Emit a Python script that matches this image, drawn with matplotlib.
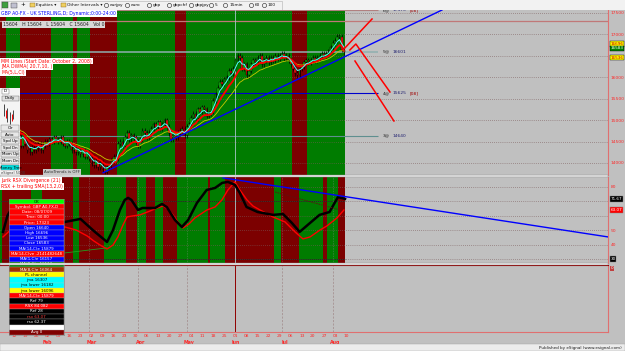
import numpy as np
import pandas as pd
import matplotlib
matplotlib.use("Agg")
from matplotlib import pyplot as plt
from matplotlib.patches import Rectangle
import matplotlib.transforms as mtransforms

plt.rcParams["font.family"] = ["DejaVu Sans"]

# daily closes, GBP A0-FX, 5 Jan .. 7 Aug 2009 (one row per week)
closes = [
    15050, 15150, 14950, 15050, 14900,
    14700, 14550, 14600, 14400, 14650,
    14450, 14300, 14250, 14350, 14300,
    14350, 14450, 14300, 14400, 14500,
    14450, 14550, 14500, 14600, 14550,
    14500, 14600, 14450, 14400, 14500,
    14450, 14300, 14350, 14250, 14300,
    14200, 14300, 14150, 14250, 14100,
    14000, 13950, 14050, 13900, 14000,
    13850, 13800, 13900, 13950, 14050,
    14150, 14100, 14450, 14500, 14400,
    14600, 14700, 14550, 14650, 14600,
    14500, 14400, 14550, 14750, 14700,
    14600, 14700, 14800, 14900, 14850,
    14950, 14800, 14900, 15000, 14850,
    14700, 14550, 14650, 14600, 14700,
    14750, 14800, 14650, 14850, 14900,
    15050, 15150, 15050, 15250, 15200,
    15300, 15250, 15100, 15150, 15200,
    15450, 15600, 15750, 15900, 15850,
    15950, 16000, 16150, 16100, 16200,
    16400, 16500, 16450, 16200, 16300,
    16050, 16150, 16300, 16400, 16350,
    16450, 16500, 16300, 16400, 16450,
    16350, 16450, 16400, 16500, 16450,
    16500, 16550, 16450, 16500, 16400,
    16300, 16200, 16100, 16050, 16200,
    16250, 16350, 16400, 16350, 16400,
    16450, 16400, 16450, 16500, 16550,
    16500, 16550, 16600, 16700, 16800,
    16850, 16950, 16950, 16640, 16583,
]

# Jurik RSX (black) and its trailing SMA (red), read at bar positions
rsx_idx = [0, 2, 5, 9, 14, 19, 24, 28, 35, 38, 41.5, 47, 49.7, 52.8, 55, 56.5, 58, 61,
           63, 68.7, 71.8, 74, 77.7, 80.8, 83.6, 87.6, 92, 95.8, 99, 101.6, 104.8, 107,
           110, 115, 122, 126.5, 130.5, 134, 138.7, 143, 147.5, 151.3, 154.5]
rsx_val = [48.8, 60, 68, 64, 56, 53, 54, 55.7, 57.8, 53.6, 48.8, 41.8, 50.1, 64, 71,
           72.4, 71, 64, 65.4, 65.4, 68.2, 66, 57, 52.2, 57, 68.9, 77.9, 79.3, 82.8, 83.5,
           81.4, 75.8, 66.1, 62.6, 60.6, 61.2, 55, 48.8, 55, 60.6, 62.6, 73, 71.7]
sma_idx = [0, 4, 10, 17, 23, 28, 33, 38, 41, 43.8, 47, 49.7, 51.9, 54.2, 56, 58.7, 61.9,
           66.4, 69.6, 72.3, 74.5, 76.8, 79, 81.3, 84, 86.7, 92.1, 95.8, 98.9, 101.6,
           104.8, 107, 110.2, 112.9, 116.1, 121.9, 127.4, 131.9, 135.5, 138.7, 143.2,
           146.3, 150.9, 154]
sma_val = [45.3, 51, 53, 52, 51, 52.2, 50.1, 46, 42.5, 39.7, 36.9, 39.7, 45.3, 53.6,
           59.2, 59.9, 60.6, 63.3, 65.4, 66.8, 64.7, 60.6, 55.7, 51.5, 54.3, 58.5, 64,
           66.1, 71, 77.9, 83.5, 77.9, 71, 66.8, 64, 59.2, 55.7, 48.8, 43.9, 45.3, 50.1,
           52.9, 58.5, 64]

# background colouring (bar index from, to, colour)
main_bands = [(-1, 2, "r"), (2, 8, "g"), (8, 22, "r"), (22, 32, "g"), (32, 34, "r"),
              (34, 40, "g"), (40, 52, "r"), (52, 78, "g"), (78, 83, "r"), (83, 131, "g"),
              (131, 138, "r"), (138, 155, "g")]
rsx_bands = [(-1, 0, "g"), (0, 13, "r"), (13, 18, "g"), (18, 32, "r"), (32, 35, "g"),
             (35, 46, "r"), (46, 56, "g"), (56, 61, "r"), (61, 65, "g"), (65, 69, "r"),
             (69, 73, "g"), (73, 79, "r"), (79, 93, "g"), (93, 94, "r"), (94, 101, "g"),
             (101, 123, "r"), (123, 126, "g"), (126, 134, "r"), (134, 145, "g"),
             (145, 147, "r"), (147, 152, "g"), (152, 155, "r")]

levels = [17570, 16601, 15625, 14640]
level_names = ["6@", "5@", "4@", "3@"]
level_colors = ["#b08080", "#8fb0b0", "#0000cc", "#5f8f8f"]
cursor_price = 17313
price_ticks = [14000, 14500, 15000, 15500, 16000, 17000, 17500]
rsx_ticks = [40, 50, 80]
bar_high, bar_close, bar_low = 16696, 16583, 16536

# drawn trendlines / fork (bar index, value)
trend_main = ([45.2, 198.3], [13772, 17570])
trend_rsx = ([99.4, 273.3], [86.3, 45.3])
trend_rsx_dash = ([122.9, 152.2], [76.5, 64])
fork_lines = [([153.6, 166.7], [16637, 17360]),
              ([156.7, 159.4, 174.8], [16637, 16777, 15657]),
              ([159.0, 176.6], [16380, 14980])]
cursor_bar = 104.8

data_labels = ["OK", "Symbol: GBP A0-FX,D", "Date: 08/07/09", "Time: 00:00", "Price: 17323",
               "Open 16640", "High 16696", "Low 16536", "Close 16583", "MA(14,C)e 15879",
               "MA(14,C)ve -2141482648", "MA(1,C)e 16157", "MA(8,C)e 16112", "MA(8,C)e 16064",
               "PL channel", "jma 16307", "jma lower 16182", "jma lower 16096",
               "MA(14,C)e 15879", "Ref 79", "RSX 84.082", "Ref 28", "rsx 63.07", "rsx 62.37",
               "", "Avg 0"]
data_bg = ["#00ff00", "#ff0000", "#ff0000", "#ff0000", "#ff0000", "#0000ff", "#0000ff",
           "#0000ff", "#0000ff", "#0000ff", "#ff0000", "#0000ff", "#008000", "#a03000",
           "#ffff00", "#00ffff", "#00ffff", "#ffff00", "#ff0000", "black", "#ff0000",
           "black", "black", "black", "white", "#800000"]
data_fg = ["black", "white", "white", "white", "white", "white", "white", "white", "white",
           "white", "white", "white", "white", "white", "black", "black", "black", "black",
           "white", "white", "white", "white", "#ff4040", "white", "black", "white"]

toolbar_labels = ["Equities \u25be", "Other Intervals \u25be", "eurjpy", "euro", "gbp",
                  "gbpchf", "gbpjpy", "5", "15min", "60", "100"]
side_buttons = ["Clr", "Auto", "Spd Up", "Spd Dn", "Mom Up", "Mom Dn", "Money Tree"]

W, H = 625, 351
GREEN, RED = "#007c00", "#7c0000"
AXRED = "#ff2828"
fig = plt.figure(figsize=(W / 100, H / 100), dpi=100, facecolor="#c0c0c0")


def px_axes(x0, y0, x1, y1):
    return fig.add_axes([x0 / W, 1 - y1 / H, (x1 - x0) / W, (y1 - y0) / H])


def blank(a):
    a.set_xticks([])
    a.set_yticks([])
    for s in a.spines.values():
        s.set_visible(False)


def px_text(x, y, s, color="black", bg=None, size=3.35, ha="left"):
    box = None
    if bg is not None:
        box = dict(boxstyle="square,pad=0.2", fc=bg, ec="none")
    fig.text(x / W, 1 - y / H, s, color=color, fontsize=size, ha=ha, va="center", bbox=box)


n = len(closes)
idx = np.arange(n)
c = np.array(closes, dtype=float)
o = np.array([closes[0] + 50] + closes[:-1], dtype=float)
hi = np.maximum(o, c) + 60
lo = np.minimum(o, c) - 60
dates = pd.bdate_range("2009-01-05", "2009-08-10")
x_lo, x_hi = -1.36, 273.3

# ---------------- price panel ----------------
ax = px_axes(0, 10, 608, 175)
ax.set_facecolor("#c0c0c0")
ax.set_xlim(x_lo, x_hi)
ax.set_ylim(13720, 17570)
for a, b, k in main_bands:
    ax.axvspan(a - 0.5, b - 0.5, color=GREEN if k == "g" else RED, lw=0, zorder=0)
for p in range(14000, 17501, 500):
    ax.axhline(p, color="#7a5a5a", lw=0.5, ls=(0, (1, 2)), zorder=1)
ax.axhline(cursor_price, color="#c07878", lw=0.9, zorder=1)
for lv, nm, col in zip(levels, level_names, level_colors):
    ax.hlines(lv, x_lo, 169.4, color=col, lw=1.1 if nm == "5@" else 0.8, zorder=2)
    ax.text(171.5, lv, nm, fontsize=3.2, color="#202020", va="center")
    ax.text(176, lv, str(lv), fontsize=3.2, color="#202070", va="center")
ax.text(183.5, levels[0], "[08]", fontsize=3.2, color="#a00000", va="center")
ax.text(183.5, levels[2], "[08]", fontsize=3.2, color="#a00000", va="center")

up = c >= o
ax.vlines(idx, lo, hi, color="black", lw=0.5, zorder=3)
ax.bar(idx, np.maximum(np.abs(c - o), 8), bottom=np.minimum(o, c), width=0.75,
       color=np.where(up, "#10c010", "#ff1010"), edgecolor="black", linewidth=0.3, zorder=4)

s = pd.Series(c)
ax.plot(idx, s.ewm(span=18).mean(), color="#c8c800", lw=0.6, zorder=5)
ax.plot(idx, s.ewm(span=9).mean(), color="#ff0000", lw=1.3, zorder=5)
ax.plot(idx, s.ewm(span=4).mean(), color="#50ffff", lw=0.7, zorder=6)
ax.plot(*trend_main, color="#0000ff", lw=1.0, zorder=6)
for fx, fy in fork_lines:
    ax.plot(fx, fy, color="#ff0000", lw=1.1, zorder=6)
ax.axvline(cursor_bar, color="#a8c8c8", lw=0.6, zorder=2)

ax.yaxis.tick_right()
ax.set_yticks(price_ticks)
ax.tick_params(axis="y", length=0, pad=2, labelsize=3.2, labelcolor=AXRED)
ax.set_xticks([])
for k, sp in ax.spines.items():
    sp.set_visible(k == "right")
ax.spines["right"].set_color("#e07070")
tr = mtransforms.blended_transform_factory(ax.transAxes, ax.transData)
for val, dy, bg, fg in [(bar_high, 2.5, "#ffff00", "#c00000"),
                        (bar_low, -2.5, "#ffff00", "#c00000"),
                        (bar_close, 3, "#008000", "white")]:
    ax.annotate(str(val), (1.004, val), xycoords=tr, xytext=(0, dy), textcoords="offset points",
                fontsize=3.0, color=fg, va="center", annotation_clip=False,
                bbox=dict(boxstyle="square,pad=0.15", fc=bg, ec="black", lw=0.3))

# ---------------- RSX panel ----------------
ar = px_axes(0, 177, 608, 263)
ar.set_facecolor("#c0c0c0")
ar.set_xlim(x_lo, x_hi)
ar.set_ylim(27.2, 86.9)
for a, b, k in rsx_bands:
    ar.axvspan(a - 0.5, b - 0.5, color=GREEN if k == "g" else RED, lw=0, zorder=0)
for v in [30, 40, 50, 60, 70, 80]:
    ar.axhline(v, color="#7a5a5a", lw=0.5, ls=(0, (1, 2)), zorder=1)
for v in [30, 70]:
    ar.hlines(v, x_lo, n - 0.5, color="#202020", lw=0.6, alpha=0.6, zorder=1)
for d in [39, 61, 83, 105, 126, 149]:
    ar.axvline(d, color="#909090", lw=0.4, ls=(0, (1, 2)), zorder=1)
ar.axvline(cursor_bar, color="#a8c8c8", lw=0.6, zorder=2)
ar.plot([28, 47], [34.2, 37.7], color="#20a020", lw=0.6, zorder=2)
ar.plot(sma_idx, sma_val, color="#ff0000", lw=1.0, zorder=3, solid_joinstyle="round")
ar.plot(rsx_idx, rsx_val, color="black", lw=1.8, zorder=4, solid_joinstyle="round")
ar.plot(*trend_rsx, color="#0000ff", lw=1.0, zorder=5)
ar.plot(*trend_rsx_dash, color="#601010", lw=0.6, ls=(0, (2, 1)), zorder=5)
ar.yaxis.tick_right()
ar.set_yticks(rsx_ticks)
ar.tick_params(axis="y", length=0, pad=2, labelsize=3.2, labelcolor=AXRED)
ar.set_xticks([])
for k, sp in ar.spines.items():
    sp.set_visible(k == "right")
ar.spines["right"].set_color("#e07070")
tr = mtransforms.blended_transform_factory(ar.transAxes, ar.transData)
for val, txt, bg in [(rsx_val[-1], "71.67", "black"), (sma_val[-1], "63.07", "#ff0000"),
                     (30, "30", "black")]:
    ar.annotate(txt, (1.004, val), xycoords=tr, fontsize=3.0, color="white", va="center",
                annotation_clip=False, bbox=dict(boxstyle="square,pad=0.15", fc=bg, ec="#808080", lw=0.3))

# ---------------- empty lower panel with date axis ----------------
al = px_axes(0, 265, 608, 332)
al.set_facecolor("#c0c0c0")
al.set_xlim(x_lo, x_hi)
al.set_ylim(0, 1)
al.set_yticks([])
for d in [39, 61, 83, 126, 149]:
    al.axvline(d, color="#a08888", lw=0.5, ls=(0, (3, 2)))
al.axvline(cursor_bar, color="#900000", lw=0.7)
mondays = [i for i, d in enumerate(dates) if d.weekday() == 0 and i >= 5]
al.set_xticks(mondays)
al.set_xticklabels([dates[i].strftime("%d") for i in mondays])
al.tick_params(axis="x", length=0, pad=1.5, labelsize=3.2, labelcolor=AXRED)
firsts = [i for i in range(1, len(dates)) if dates[i].month != dates[i - 1].month]
trx = mtransforms.blended_transform_factory(al.transData, al.transAxes)
for i in firsts:
    al.text(i, -0.15, dates[i].strftime("%b"), transform=trx, fontsize=3.4, color=AXRED,
            ha="center", va="center", fontweight="bold")
for k, sp in al.spines.items():
    sp.set_visible(k != "left")
    sp.set_color("#e07070")
al.spines["top"].set_color("#900000")
al.text(1.004, 0.95, "0", transform=al.transAxes, fontsize=3, color="white", va="center",
        bbox=dict(boxstyle="square,pad=0.15", fc="#c04040", ec="none"))

# panel separators and status bar
for y0 in [175, 263]:
    fig.add_artist(Rectangle((0, 1 - (y0 + 2) / H), 608 / W, 2 / H, transform=fig.transFigure,
                             fc="#e6e6e6", ec="#909090", lw=0.3))
fig.add_artist(Rectangle((0, 0), 1, 7 / H, transform=fig.transFigure, fc="#ececec", ec="#a0a0a0", lw=0.3))
px_text(622, 347.5, "Published by eSignal (www.esignal.com)", color="#202020", size=3.0, ha="right")

# ---------------- toolbar ----------------
tb = px_axes(0, 0, 625, 10)
tb.set_facecolor("#f2f2f2")
blank(tb)
tb.set_xlim(0, 625)
tb.set_ylim(10, 0)
tb.add_patch(Rectangle((0.5, 0.5), 281, 9, fc="none", ec="#b0b0b0", lw=0.4))
tb.add_patch(Rectangle((2, 2), 6, 6, fc="#40a040", ec="#404040", lw=0.3))
tb.add_patch(Rectangle((11, 2.5), 6, 5, fc="#c0c0d0", ec="#404040", lw=0.3))
tb.text(23, 5, "+", fontsize=4, ha="center", va="center")
tb_x = [36, 67, 110, 131, 153, 173, 195, 215, 229, 255, 268]
for x, t in zip(tb_x, toolbar_labels):
    if "\u25be" in t:
        tb.add_patch(Rectangle((x - 6, 2.5), 4.5, 4, fc="#f0d060", ec="#806020", lw=0.3))
    else:
        tb.plot(x - 4, 5, "o", ms=3, mfc="none", mec="#202020", mew=0.4)
    tb.text(x, 5, t, fontsize=3.1, va="center", color="#101010")

# ---------------- left side button bar ----------------
sb = px_axes(0, 88, 20, 175)
sb.set_facecolor("#f4f4f4")
blank(sb)
sb.set_xlim(0, 20)
sb.set_ylim(87, 0)
sb.add_patch(Rectangle((1.5, 1), 7, 5, fc="white", ec="#606060", lw=0.3))
sb.text(5, 3.5, "D", fontsize=3, ha="center", va="center")
sb.add_patch(Rectangle((1.5, 7.5), 17, 5, fc="#e0e0e0", ec="#606060", lw=0.3))
sb.text(10, 10, "Daily", fontsize=3, ha="center", va="center")
sb.vlines([4, 7, 10, 13], [16, 20, 24, 22], [28, 34, 36, 31], color="black", lw=0.5)
sb.vlines([5.5, 11.5], [22, 26], [30, 33], color="#ff0000", lw=0.7)
for j, t in enumerate(side_buttons):
    yy = 40 + j * 6.6
    bg = "#00e0e0" if t == "Money Tree" else "#e8e8e8"
    sb.add_patch(Rectangle((1, yy - 2.8), 18, 5.6, fc=bg, ec="#707070", lw=0.3))
    sb.text(10, yy, t, fontsize=2.9, ha="center", va="center")
sb.text(1, 85, "eSignal 5000", fontsize=2.6, color="#404040", va="center")

# ---------------- study titles ----------------
px_text(1, 13.5, "GBP A0-FX - UK STERLING,D; Dynamic;0:00-24:00", color="#0000ff", bg="white")
px_text(3, 24.5, "15604   H 15604   L 15604   C 15604   Vol 0", color="#202020", bg="#d8d8d8")
px_text(1, 61, "MM Lines (Start Date: October 2, 2008)", color="#ff0000", bg="white")
px_text(1, 66.5, "JMA DWMA( 20,7,10, )", color="#ff0000", bg="white")
px_text(1, 72.5, "MA(5,L,Cl)", color="#ff0000", bg="white")
px_text(44, 172, "AutoTrends is OFF", color="#303030", bg="#c8c8c8", size=2.9)
px_text(1, 180.5, "Jurik RSX Divergence (21)", color="#ff0000", bg="white")
px_text(1, 186.5, "RSX + trailing SMA(13,2,0)", color="#ff0000", bg="white")

# ---------------- data window ----------------
dw = px_axes(9, 199, 64, 335)
blank(dw)
dw.set_xlim(0, 1)
dw.set_ylim(len(data_labels), 0)
for j, (t, bg, fg) in enumerate(zip(data_labels, data_bg, data_fg)):
    dw.add_patch(Rectangle((0, j), 1, 1, fc=bg, ec="#c0c0c0", lw=0.2))
    dw.text(0.5, j + 0.5, t, fontsize=2.9, color=fg, ha="center", va="center")
for sp in dw.spines.values():
    sp.set_visible(True)
    sp.set_color("#808080")
    sp.set_linewidth(0.4)

fig.savefig("out.png", dpi=100, facecolor=fig.get_facecolor())
